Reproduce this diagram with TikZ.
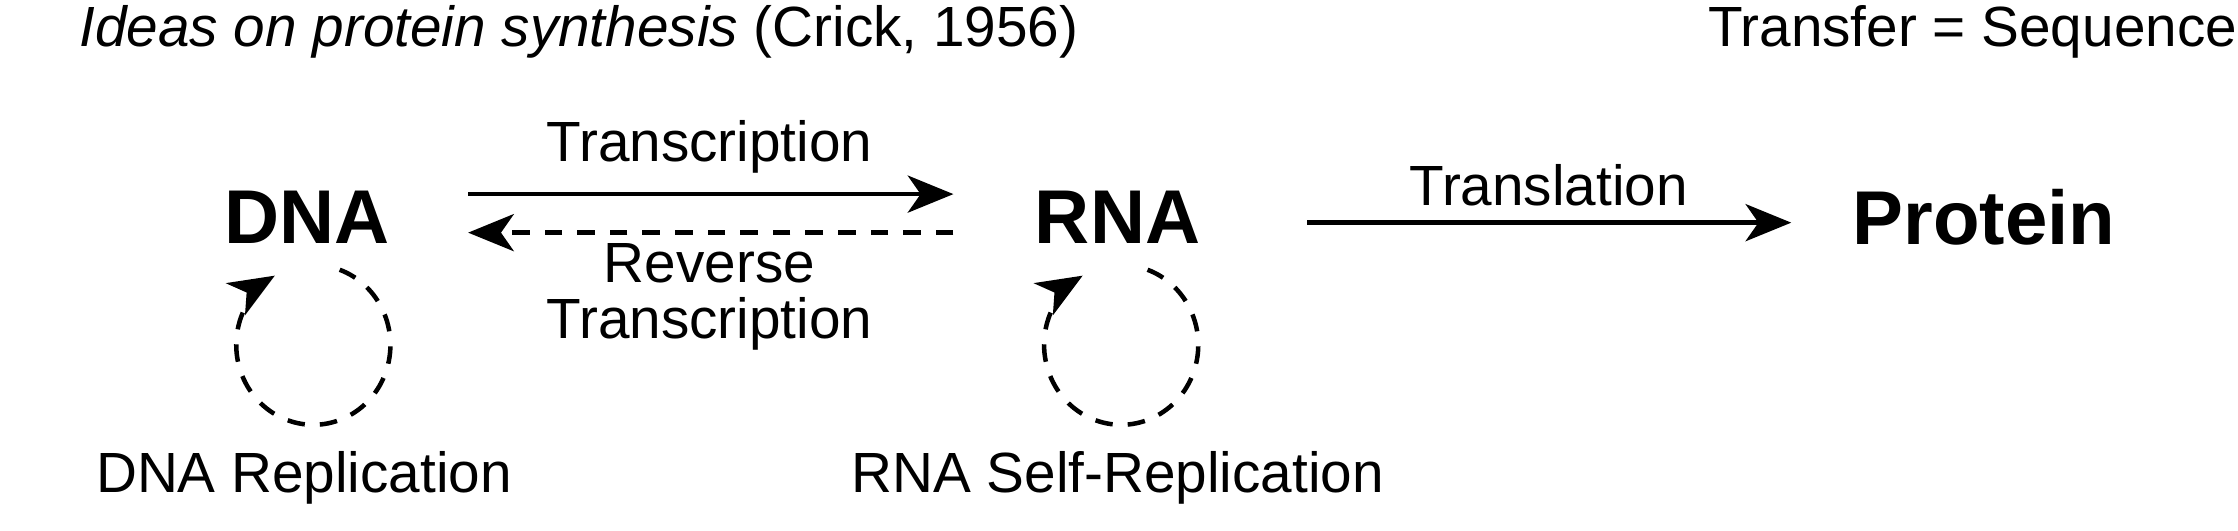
\documentclass[tikz,border=0pt]{standalone}
\usepackage{fontspec}
\setmainfont{Liberation Sans}
\usetikzlibrary{positioning, arrows.meta}

\begin{document}
\begin{tikzpicture}[x=0.1mm, y=-0.1mm,
    molecule/.style={font=\fontsize{15.2}{18}\selectfont\bfseries, inner sep=0pt},
    label/.style={font=\fontsize{11.3}{11.3}\selectfont, inner sep=0pt, align=center},
    flow/.style={line width=0.9pt, -{Stealth[length=3.2mm, width=2.6mm, inset=0.9mm]}},
    guess/.style={flow, dash pattern=on 3.5pt off 3pt}]
  \useasboundingbox (0,0) rectangle (1568,372);

  % heading
  \node[label, anchor=west] (title) at (55,22) {\textit{Ideas on protein synthesis} (Crick, 1956)};
  \node[label, anchor=east] (key) at (1568,22) {Transfer = Sequence};

  % molecules
  \node[molecule] (dna) at (215,152) {DNA};
  \node[molecule] (rna) at (783,152) {RNA};
  \node[molecule] (prot) at (1390,152) {Protein};

  % transfers
  \coordinate (t1) at (328,136);
  \coordinate (t2) at (668,136);
  \coordinate (r1) at (668,163);
  \coordinate (r2) at (328,163);
  \coordinate (l1) at (916,156);
  \coordinate (l2) at (1255,156);
  \draw[flow] (t1) -- (t2);
  \draw[guess] (r1) -- (r2);
  \draw[flow] (l1) -- (l2);
  \node[label] (tlab) at (497,103) {Transcription};
  \node[label] (rlab) at (497,208) {Reverse\\Transcription};
  \node[label] (llab) at (1085,130) {Translation};

  % replication loops
  \coordinate (dc) at (217,245);
  \coordinate (rc) at (783,245);
  \draw[guess] (dc) ++(21,-56) arc[start angle=70, end angle=-240, x radius=54, y radius=-56];
  \draw[guess] (rc) ++(21,-56) arc[start angle=70, end angle=-240, x radius=54, y radius=-56];
  \node[label] (dnarep) at (213,335) {DNA Replication};
  \node[label] (rnarep) at (783,335) {RNA Self-Replication};
\end{tikzpicture}
\end{document}
